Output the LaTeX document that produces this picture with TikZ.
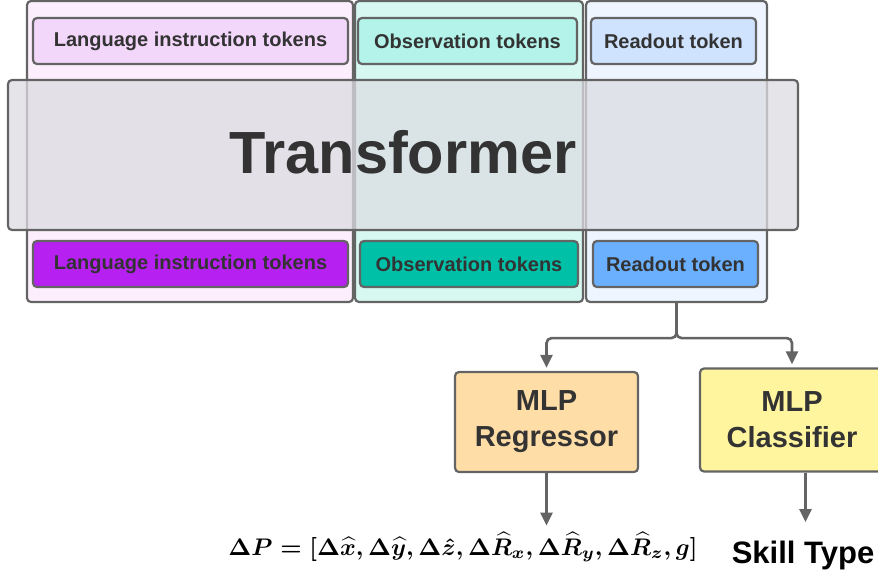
\documentclass[tikz,border=0pt]{standalone}
\usepackage{amsmath,bm}
\usepackage{fontspec}
\setmainfont{Liberation Sans}
\usetikzlibrary{arrows.meta}
\definecolor{edge}{HTML}{646464}
\definecolor{txt}{HTML}{333333}
\definecolor{colpink}{HTML}{FCEEFC}
\definecolor{colcyan}{HTML}{D6F8F0}
\definecolor{colblue}{HTML}{EEF5FF}
\definecolor{ltop}{HTML}{F3D7FB}
\definecolor{otop}{HTML}{B3F3EA}
\definecolor{rtop}{HTML}{CFE3FE}
\definecolor{lbot}{HTML}{B620F0}
\definecolor{obot}{HTML}{00C0A8}
\definecolor{rbot}{HTML}{6AB0FF}
\definecolor{regc}{HTML}{FFDDA6}
\definecolor{clsc}{HTML}{FFF59E}
\definecolor{trc}{HTML}{DCDCE2}
\begin{document}
\begin{tikzpicture}[x=1pt,y=-1pt,
  box/.style={draw=edge, line width=2.2pt, rounded corners=4pt, inner sep=0pt},
  tok/.style={box, font=\fontsize{20}{23}\selectfont\bfseries, text=txt, minimum height=46pt},
  mlp/.style={box, font=\fontsize{29}{36}\selectfont\bfseries, text=txt, align=center},
  conn/.style={draw=edge, line width=2.6pt, rounded corners=5pt, -{Triangle[width=12pt,length=13pt]}}]
\useasboundingbox (0,0) rectangle (878,573);
% columns
\node[box, fill=colpink, minimum width=326pt, minimum height=301pt] (langcol) at (190,151.5) {};
\node[box, fill=colcyan, minimum width=228pt, minimum height=301pt] (obscol) at (469,151.5) {};
\node[box, fill=colblue, minimum width=181pt, minimum height=301pt] (rdcol) at (676.5,151.5) {};
% top tokens
\node[tok, fill=ltop, minimum width=315pt] (langtop) at (190.5,41) {Language instruction tokens};
\node[tok, fill=otop, minimum width=219pt] (obstop) at (467.5,41) {Observation tokens};
\node[tok, fill=rtop, minimum width=165pt] (rdtop) at (673.5,41) {Readout token};
% bottom tokens
\node[tok, fill=lbot, minimum width=315pt] (langbot) at (190.5,264) {Language instruction tokens};
\node[tok, fill=obot, minimum width=218pt] (obsbot) at (469,264) {Observation tokens};
\node[tok, fill=rbot, minimum width=165pt] (rdbot) at (675.5,264) {Readout token};
% transformer
\node[box, fill=trc, fill opacity=0.75, text opacity=1, minimum width=790pt, minimum height=150pt,
  font=\fontsize{59.5}{66}\selectfont\bfseries, text=txt] (tr) at (403,155) {\raisebox{7pt}{Transformer}};
% heads
\node[mlp, fill=regc, minimum width=183pt, minimum height=100pt] (reg) at (546.5,422) {MLP\\Regressor};
\node[mlp, fill=clsc, minimum width=184pt, minimum height=103pt] (cls) at (792,420) {MLP\\Classifier};
% outputs
\node[inner sep=0pt] (dp) at (463,547) {\resizebox{469pt}{!}{\boldmath$\mathbf{\Delta} P=[\mathbf{\Delta}\widehat{x},\mathbf{\Delta}\widehat{y},\mathbf{\Delta}\hat{z},\mathbf{\Delta}\widehat{R}_x,\mathbf{\Delta}\widehat{R}_y,\mathbf{\Delta}\widehat{R}_z,g]$}};
\node[inner sep=0pt, font=\fontsize{31}{36}\selectfont\bfseries, text=black, anchor=north] (skill) at (803,541) {Skill Type};
\coordinate (split) at ([yshift=-35pt]rdcol.south);
\coordinate (skillin) at (805.5,522);
% connectors
\draw[conn, shorten >=3pt] (rdcol.south) -- (split) -| (reg.north);
\draw[conn, shorten >=3pt] (rdcol.south) -- (split) -| (cls.north);
\draw[conn] (reg.south) -- ([yshift=6pt]reg.south |- dp.north);
\draw[conn] (cls.south -| skillin) -- (skillin);
\end{tikzpicture}
\end{document}
